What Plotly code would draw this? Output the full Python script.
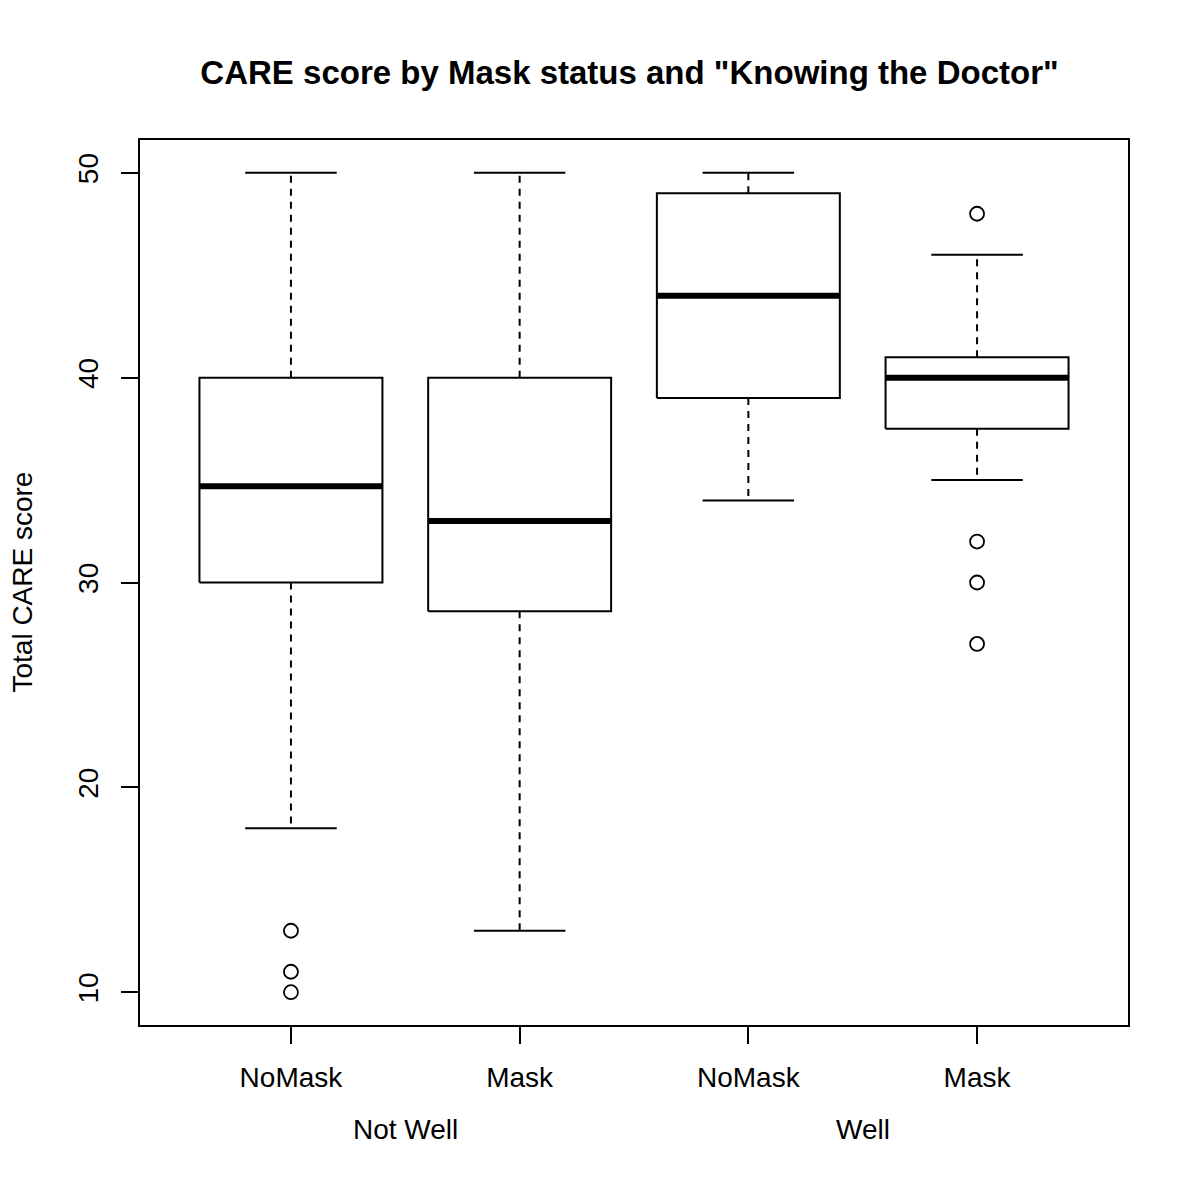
import plotly.graph_objects as go

# ---- data ----
categories = ["NoMask", "Mask", "NoMask", "Mask"]
groups = ["Not Well", "Well"]
lower_whisker = [18, 13, 34, 35]
q1 = [30, 28.6, 39, 37.5]
median = [34.7, 33, 44, 40]
q3 = [40, 40, 49, 41]
upper_whisker = [50, 50, 50, 46]
outliers = [[13, 11, 10], [], [], [48, 32, 30, 27]]
y_ticks = [10, 20, 30, 40, 50]

BOX_HALF = 0.4
CAP_HALF = 0.2
FONT = "Liberation Sans, Arial, Helvetica, sans-serif"

fig = go.Figure()
positions = list(range(1, len(categories) + 1))

for i, p in enumerate(positions):
    # whiskers (dashed)
    fig.add_trace(go.Scatter(
        x=[p, p, None, p, p],
        y=[q3[i], upper_whisker[i], None, q1[i], lower_whisker[i]],
        mode="lines", line=dict(color="black", width=2, dash="7px,6px"),
        hoverinfo="skip", showlegend=False))
    # caps
    fig.add_trace(go.Scatter(
        x=[p - CAP_HALF, p + CAP_HALF, None, p - CAP_HALF, p + CAP_HALF],
        y=[upper_whisker[i], upper_whisker[i], None, lower_whisker[i], lower_whisker[i]],
        mode="lines", line=dict(color="black", width=2),
        hoverinfo="skip", showlegend=False))
    # box
    fig.add_trace(go.Scatter(
        x=[p - BOX_HALF, p + BOX_HALF, p + BOX_HALF, p - BOX_HALF, p - BOX_HALF],
        y=[q1[i], q1[i], q3[i], q3[i], q1[i]],
        mode="lines", line=dict(color="black", width=2),
        fill="toself", fillcolor="white",
        hoverinfo="skip", showlegend=False))
    # median
    fig.add_trace(go.Scatter(
        x=[p - BOX_HALF, p + BOX_HALF],
        y=[median[i], median[i]],
        mode="lines", line=dict(color="black", width=6),
        hoverinfo="skip", showlegend=False))
    # outliers
    if outliers[i]:
        fig.add_trace(go.Scatter(
            x=[p] * len(outliers[i]), y=outliers[i],
            mode="markers",
            marker=dict(symbol="circle-open", size=14, color="black",
                        line=dict(width=1.8, color="black")),
            showlegend=False))

# group labels
for g, label in enumerate(groups):
    fig.add_annotation(
        x=(positions[2 * g] + positions[2 * g + 1]) / 2, xref="x",
        y=-0.118, yref="paper", yanchor="middle",
        text=label, showarrow=False,
        font=dict(family=FONT, size=28, color="black"))

# y axis title
fig.add_annotation(
    x=-0.1194, xref="paper", y=0.5, yref="paper",
    xanchor="center", yanchor="middle", textangle=-90,
    text="Total CARE score", showarrow=False,
    font=dict(family=FONT, size=28, color="black"))

fig.update_layout(
    width=1200, height=1200,
    margin=dict(l=132, r=80, t=132, b=183),
    paper_bgcolor="white", plot_bgcolor="white",
    font=dict(family=FONT, size=28, color="black"),
    title=dict(text='<b>CARE score by Mask status and "Knowing the Doctor"</b>',
               x=621.5 / 1200, xref="container", xanchor="center",
               y=1 - 64 / 1200, yref="container", yanchor="middle",
               font=dict(family=FONT, size=33, color="black")),
    xaxis=dict(range=[0.34, 4.66], tickvals=positions, ticktext=categories,
               showgrid=False, zeroline=False, showline=True, mirror=True,
               linecolor="black", linewidth=2, ticks="outside", ticklen=17,
               tickwidth=2, tickcolor="black", ticklabelstandoff=9,
               tickfont=dict(family=FONT, size=28, color="black")),
    yaxis=dict(range=[8.4, 51.6], tickvals=y_ticks,
               showgrid=False, zeroline=False, showline=True, mirror=True,
               linecolor="black", linewidth=2, ticks="outside", ticklen=17,
               tickwidth=2, tickcolor="black", tickangle=-90,
               ticklabelstandoff=12,
               tickfont=dict(family=FONT, size=28, color="black")),
)

fig.write_html("out.html")
